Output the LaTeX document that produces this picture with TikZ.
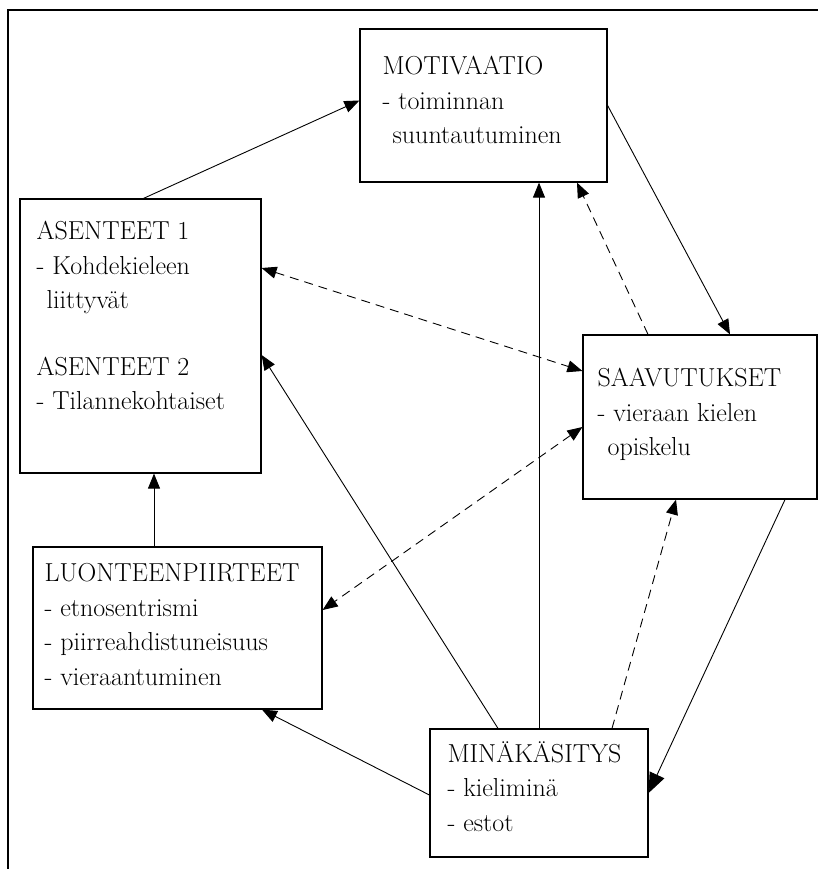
\documentclass[tikz,border=0pt]{standalone}
\usepackage{fontspec}
\usepackage{tikz}
\usetikzlibrary{arrows.meta,positioning}

\begin{document}
\begin{tikzpicture}[x=1pt, y=-1pt, line join=miter,
    >={Triangle[length=15pt,width=12pt]},
    box/.style={draw, line width=1.2pt, inner sep=0pt},
    txt/.style={inner sep=0pt, align=left, font=\fontsize{26}{34.5}\selectfont,
                execute at begin node={\rule{0pt}{21pt}}},
    link/.style={line width=0.9pt},
    dlink/.style={line width=0.9pt, dash pattern=on 9pt off 6pt}]
    \useasboundingbox (0,0) rectangle (818,869);

    % Frame
    \draw[line width=1.4pt] (8,869) -- (8,10) -- (818,10);

    % Boxes
    \node[box, minimum width=247pt, minimum height=153pt] (mot) at (483.5,105.5) {};
    \node[box, minimum width=241pt, minimum height=274pt] (ase) at (140.5,336) {};
    \node[box, minimum width=234pt, minimum height=164pt] (saa) at (700,417) {};
    \node[box, minimum width=289pt, minimum height=162pt] (luo) at (177.5,628) {};
    \node[box, minimum width=218pt, minimum height=128pt] (min) at (539,793) {};

    % Texts
    \node[txt, below right=28pt and 23pt of mot.north west] (motT)
        {MOTIVAATIO\\- toiminnan\\\hspace*{10pt}suuntautuminen};
    \node[txt, below right=23pt and 17pt of ase.north west] (aseT)
        {ASENTEET 1\\- Kohdekieleen\\\hspace*{10pt}liittyvät\\[32pt]ASENTEET 2\\- Tilannekohtaiset};
    \node[txt, below right=34pt and 15pt of saa.north west] (saaT)
        {SAAVUTUKSET\\- vieraan kielen\\\hspace*{10pt}opiskelu};
    \node[txt, below right=17pt and 12pt of luo.north west] (luoT)
        {LUONTEENPIIRTEET\\- etnosentrismi\\- piirreahdistuneisuus\\- vieraantuminen};
    \node[txt, below right=13pt and 18pt of min.north west] (minT)
        {MINÄKÄSITYS\\- kieliminä\\- estot};

    % Solid arrows
    \draw[link, ->] ([xshift=3pt]ase.north) -- ([yshift=5pt]mot.west);
    \draw[link, ->] (mot.east) -- ([xshift=30pt]saa.north);
    \draw[link, ->] (min.north) -- (min.north |- mot.south);
    \draw[link, ->] ([xshift=-41pt]min.north) -- ([yshift=-19pt]ase.east);
    \draw[link, ->] ([xshift=-23.5pt]luo.north) -- ([xshift=-23.5pt]luo.north |- ase.south);
    \draw[link, ->] ([yshift=-2pt]min.west) -- ([xshift=84.5pt]luo.south);
    \draw[link, -{Triangle[length=20pt,width=16pt]}] ([xshift=85pt]saa.south) -- (min.east);

    % Dashed arrows
    \draw[dlink, ->] ([xshift=-52pt]saa.north) -- ([xshift=93.5pt]mot.south);
    \draw[dlink, <->] ([yshift=68pt]ase.east) -- ([yshift=46pt]saa.west);
    \draw[dlink, <->] ([yshift=-10pt]saa.west) -- ([yshift=18pt]luo.east);
    \draw[dlink, ->] ([xshift=73pt]min.north) -- ([xshift=-24pt]saa.south);
\end{tikzpicture}
\end{document}
